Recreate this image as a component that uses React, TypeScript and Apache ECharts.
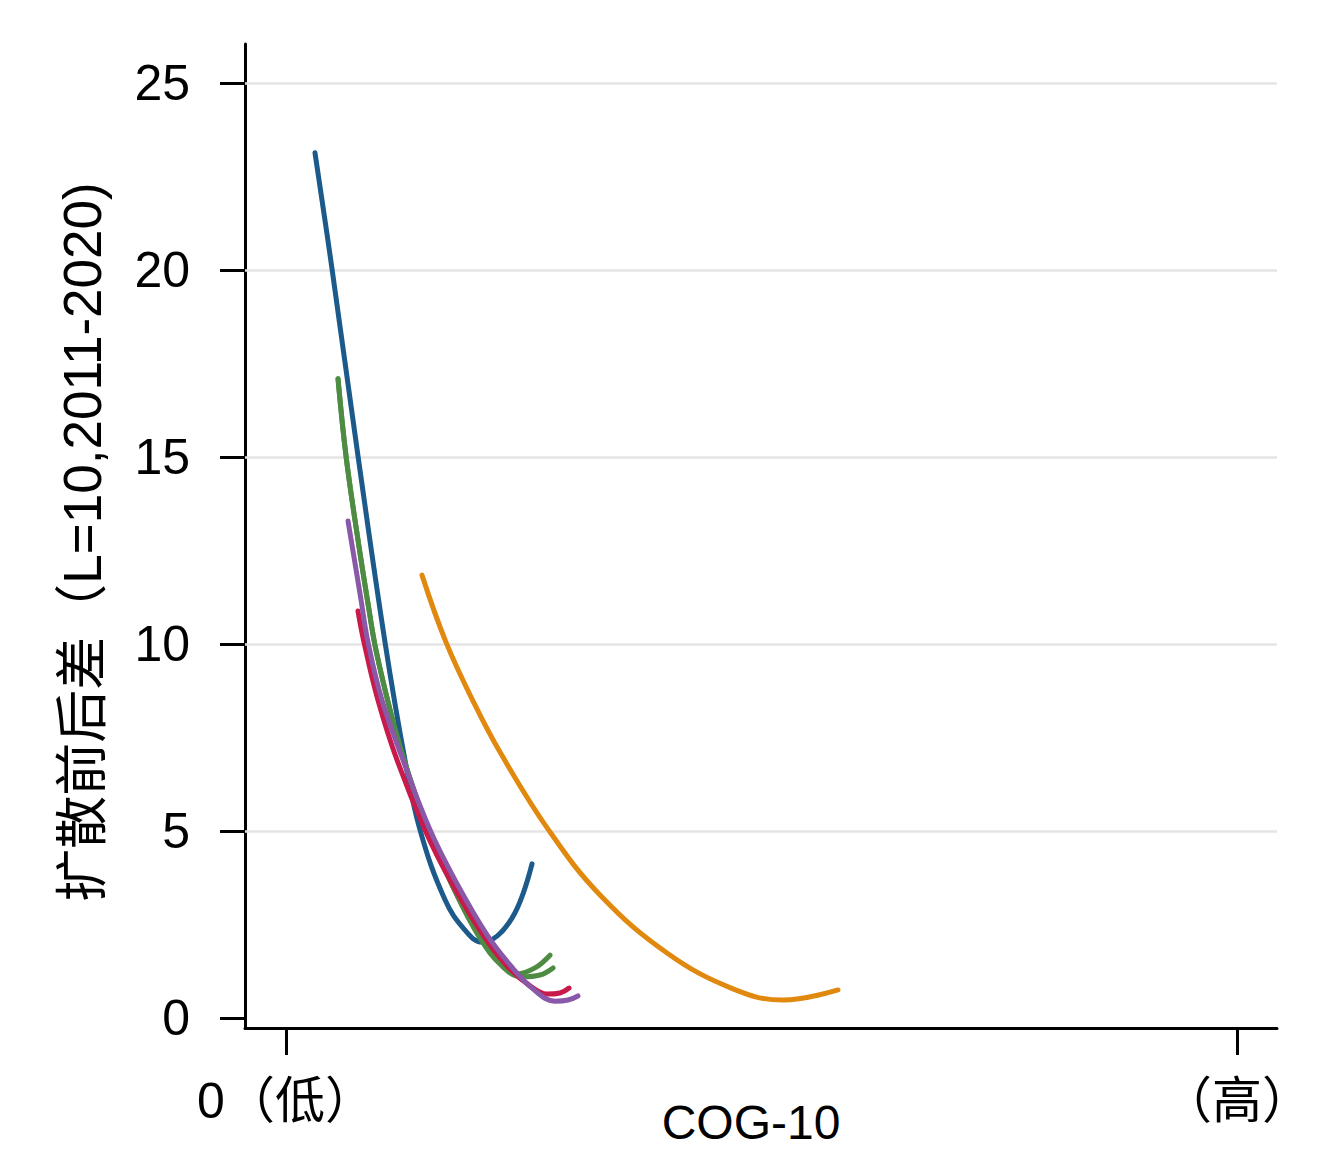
import React, { useEffect, useRef } from "react";
import * as echarts from "echarts";

// Tick labels
const yTicks = [0, 5, 10, 15, 20, 25];
const gridVals = [5, 10, 15, 20, 25];
const xTicks = [0, 100];
const xTickLabels = ["0（低）", "（高）"];

// Series values (x = COG-10 scaled 0..100, y = difference)
const blueX = [3.05, 4.84, 7.57, 10.41, 12.51, 14.09, 16.72, 18.82, 20.61, 22.19, 23.76, 24.92, 25.87];
const blueY = [23.13, 20.03, 15.03, 10.05, 6.9, 5.03, 3.16, 2.35, 2.03, 2.19, 2.67, 3.32, 4.12];

const greenAX = [5.47, 6.31, 7.57, 8.73, 9.46, 10.94, 12.41, 14.93, 17.46, 20.4, 22.5, 24.29, 26.18, 27.76];
const greenAY = [17.09, 15.03, 12.78, 10.91, 9.84, 8.24, 6.9, 5.03, 3.56, 2.14, 1.5, 1.18, 1.34, 1.68];

const greenBX = [5.47, 6.31, 7.57, 8.73, 9.46, 10.94, 12.41, 14.93, 17.46, 20.4, 22.71, 24.82, 26.71, 28.08];
const greenBY = [17.09, 15.03, 12.78, 10.91, 9.84, 8.24, 6.9, 5.03, 3.56, 2.14, 1.39, 1.1, 1.15, 1.34];

const redX = [7.57, 8.2, 9.67, 11.67, 14.62, 17.25, 20.71, 23.24, 25.66, 27.44, 28.81, 29.76];
const redY = [10.88, 10.05, 8.5, 6.9, 5.03, 3.69, 2.22, 1.39, 0.86, 0.64, 0.67, 0.8];

const purpleX = [6.52, 7.89, 8.62, 10.09, 12.3, 15.14, 17.77, 21.14, 23.55, 25.97, 28.29, 29.65, 30.7];
const purpleY = [13.29, 11.18, 10.05, 8.5, 6.9, 5.03, 3.69, 2.22, 1.42, 0.78, 0.45, 0.48, 0.59];

const orangeX = [14.3, 16.82, 19.87, 22.5, 27.55, 33.02, 40.06, 47.0, 52.26, 58.04];
const orangeY = [11.84, 10.05, 8.37, 7.11, 5.05, 3.29, 1.74, 0.78, 0.48, 0.75];

const seriesDefs = [
  { name: "A", xs: blueX, ys: blueY, color: "#1b5a8a" },
  { name: "B", xs: greenAX, ys: greenAY, color: "#4f8c43" },
  { name: "C", xs: greenBX, ys: greenBY, color: "#4f8c43" },
  { name: "D", xs: redX, ys: redY, color: "#c81a4b" },
  { name: "E", xs: purpleX, ys: purpleY, color: "#8a58a8" },
  { name: "F", xs: orangeX, ys: orangeY, color: "#e0890e" },
];

const FONT = "'Liberation Sans', 'Noto Sans CJK SC', sans-serif";

export default function App() {
  const ref = useRef<HTMLDivElement>(null);

  useEffect(() => {
    if (!ref.current) return;
    const chart = echarts.init(ref.current, null, { renderer: "svg" });

    const lineSeries = seriesDefs.map((s) => ({
      name: s.name,
      type: "line",
      data: s.xs.map((x, i) => [x, s.ys[i]]),
      smooth: 0.4,
      showSymbol: false,
      symbol: "none",
      lineStyle: { color: s.color, width: 5, cap: "round", join: "round" },
      itemStyle: { color: s.color },
      z: 3,
    }));

    const option: any = {
      animation: false,
      backgroundColor: "#ffffff",
      grid: { left: 245, top: 44, right: 67, bottom: 142, containLabel: false },
      xAxis: {
        type: "value",
        min: -4.31,
        max: 104.2,
        axisLine: { show: true, onZero: false, lineStyle: { color: "#000", width: 3 } },
        axisTick: {
          show: true,
          customValues: xTicks,
          length: 27,
          lineStyle: { color: "#000", width: 3 },
        },
        axisLabel: {
          show: true,
          customValues: xTicks,
          formatter: (v: number) => xTickLabels[xTicks.indexOf(v)] ?? "",
          fontSize: 50,
          color: "#000",
          fontFamily: FONT,
          margin: 48,
        },
        splitLine: { show: false },
      },
      yAxis: {
        type: "value",
        min: -0.267,
        max: 26.04,
        axisLine: { show: true, onZero: false, lineStyle: { color: "#000", width: 3 } },
        axisTick: {
          show: true,
          customValues: yTicks,
          length: 25,
          lineStyle: { color: "#000", width: 3 },
        },
        axisLabel: {
          show: true,
          customValues: yTicks,
          fontSize: 50,
          color: "#000",
          fontFamily: FONT,
          margin: 55,
        },
        splitLine: { show: false },
      },
      graphic: [
        {
          type: "text",
          x: 751,
          y: 1122,
          style: {
            text: "COG-10",
            fontSize: 48,
            fontFamily: FONT,
            fill: "#000",
            textAlign: "center",
            textVerticalAlign: "middle",
          },
        },
        {
          type: "text",
          x: 82,
          y: 542,
          rotation: Math.PI / 2,
          style: {
            text: "扩散前后差（L=10,2011-2020)",
            fontSize: 53,
            fontFamily: FONT,
            fill: "#000",
            textAlign: "center",
            textVerticalAlign: "middle",
          },
        },
      ],
      series: [
        {
          name: "grid",
          type: "line",
          data: [],
          silent: true,
          z: 1,
          markLine: {
            silent: true,
            symbol: "none",
            label: { show: false },
            lineStyle: { color: "#e4e4e4", width: 2.5, type: "solid" },
            data: gridVals.map((v) => ({ yAxis: v })),
            z: 1,
          },
        },
        ...lineSeries,
      ],
    };

    chart.setOption(option);
    return () => chart.dispose();
  }, []);

  return (
    <div
      ref={ref}
      style={{ position: "fixed", left: 0, top: 0, width: 1344, height: 1170, background: "#fff" }}
    />
  );
}
